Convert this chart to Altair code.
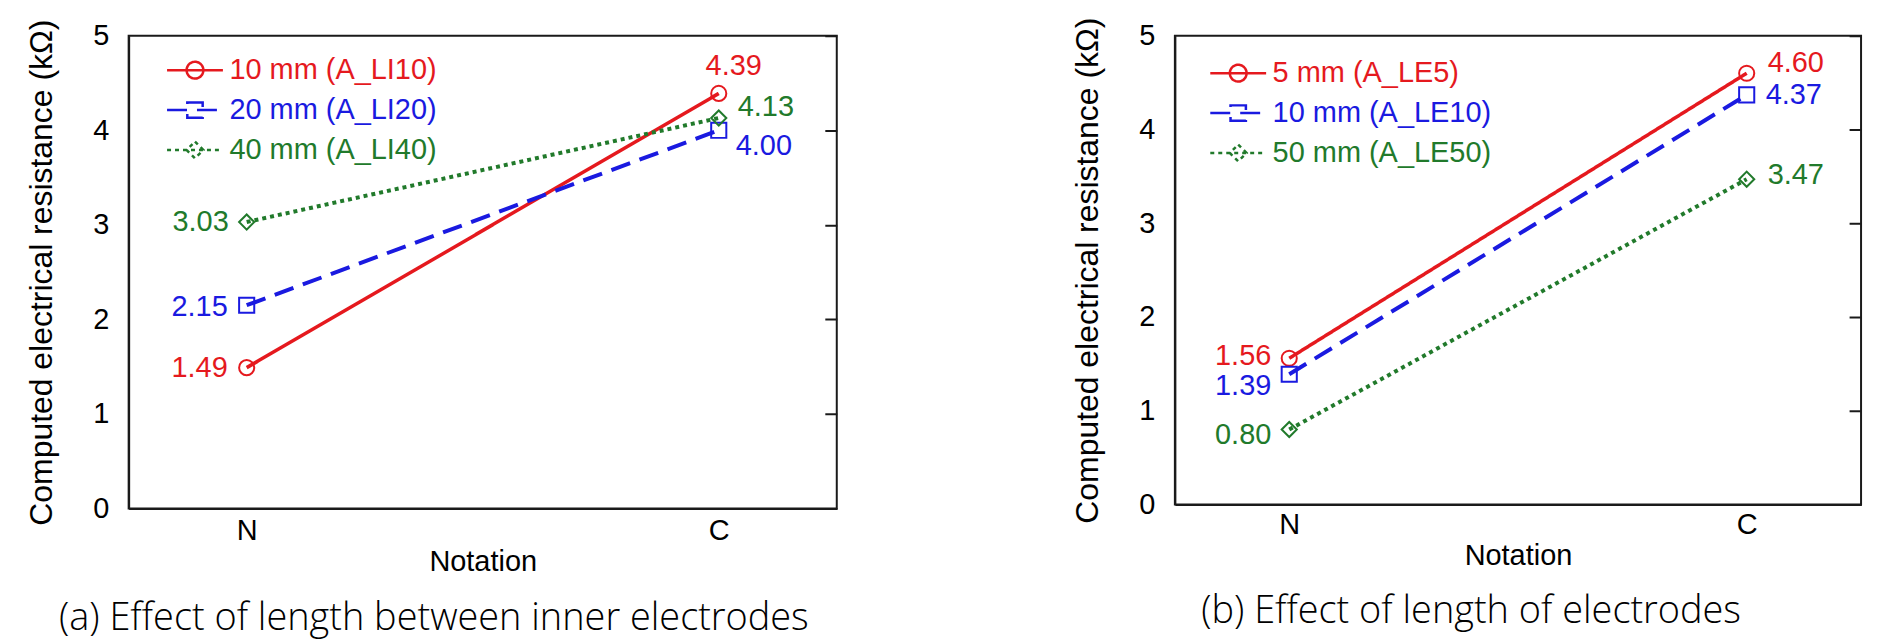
import json
import altair as alt
import pandas as pd

# ---------------- data ----------------
notation = ["N", "C"]

left_series = ["10 mm (A_LI10)", "20 mm (A_LI20)", "40 mm (A_LI40)"]
left_li10 = [1.49, 4.39]
left_li20 = [2.15, 4.00]
left_li40 = [3.03, 4.13]

right_series = ["5 mm (A_LE5)", "10 mm (A_LE10)", "50 mm (A_LE50)"]
right_le5 = [1.56, 4.60]
right_le10 = [1.39, 4.37]
right_le50 = [0.80, 3.47]

y_ticks = [0, 1, 2, 3, 4, 5]
captions = ["(a) Effect of length between inner electrodes",
            "(b) Effect of length of electrodes"]
y_title = "Computed electrical resistance (kΩ)"
x_title = "Notation"

# ---------------- styles ----------------
FONT = "Liberation Sans"
CAP_FONT = "Open Sans"
FS = 29
COLORS = ["#e5191e", "#1a1ae0", "#217a2b"]
DASHES = [[1, 0], [20, 10], [4, 4]]
WIDTHS = [3.5, 4, 4]
SHAPES = ["circle", "square", "diamond"]
LEGEND_PATHS = [
    "M-2,0H2M-0.6,0A0.6,0.6,0,1,1,0.6,0A0.6,0.6,0,1,1,-0.6,0",
    "M-2,0H2M-0.55,-0.55H0.55V0.55H-0.55Z",
    "M-2,0H2M0,-0.6L0.6,0L0,0.6L-0.6,0Z",
]
AXIS_COLOR = "#1a1a1a"

# label offsets (dx, dy, align) per series, per notation
left_offsets = [
    [(-19, 0, "right"), (15, -27, "center")],
    [(-19, 2, "right"), (17, 16, "left")],
    [(-18, 0, "right"), (19, -11, "left")],
]
right_offsets = [
    [(-18, -2, "right"), (21, -10, "left")],
    [(-18, 12, "right"), (19, 0, "left")],
    [(-18, 6, "right"), (21, -4, "left")],
]


def build_panel(series, values, offsets, caption, width, height,
                legend_x, legend_y, cap_x, cap_y, x_label_pad):
    rows = [{"notation": n, "series": s, "value": v}
            for s, vals in zip(series, values)
            for n, v in zip(notation, vals)]
    df = pd.DataFrame(rows)

    x_enc = alt.X(
        "notation:N",
        scale=alt.Scale(type="point", domain=notation, padding=0.25),
        axis=alt.Axis(title=x_title, labelAngle=0, tickSize=0, labelPadding=x_label_pad,
                      titlePadding=2, domainColor=AXIS_COLOR, domainWidth=2,
                      labelFont=FONT, labelFontSize=FS, labelColor="black",
                      titleFont=FONT, titleFontSize=FS, titleFontWeight="normal",
                      titleColor="black"),
    )
    y_scale = alt.Scale(domain=[0, 5], nice=False, zero=False)
    y_enc = alt.Y(
        "value:Q", scale=y_scale,
        axis=alt.Axis(title=y_title, values=y_ticks, tickSize=0, labelPadding=20,
                      titlePadding=34, grid=False, domainColor=AXIS_COLOR,
                      domainWidth=2, labelFont=FONT, labelFontSize=FS,
                      labelColor="black", titleFont=FONT, titleFontSize=32,
                      titleFontWeight="normal", titleColor="black"),
    )

    layers = []
    for i, s in enumerate(series):
        base = alt.Chart(df).transform_filter(alt.datum.series == s)
        layers.append(base.mark_line(color=COLORS[i], strokeDash=DASHES[i],
                                     strokeWidth=WIDTHS[i]).encode(x=x_enc, y=y_enc))
        layers.append(base.mark_point(shape=SHAPES[i], color=COLORS[i], filled=False,
                                      size=230, strokeWidth=2, opacity=1)
                      .encode(x=x_enc, y=y_enc))
        for j, n in enumerate(notation):
            dx, dy, al = offsets[i][j]
            layers.append(
                base.transform_filter(alt.datum.notation == n)
                .mark_text(font=FONT, fontSize=FS, color=COLORS[i], align=al,
                           baseline="middle", dx=dx, dy=dy)
                .encode(x=x_enc, y=y_enc, text=alt.Text("value:Q", format=".2f"))
            )
    cap = alt.Chart(pd.DataFrame({"caption": [caption]})).mark_text(
        font=CAP_FONT, fontSize=38, fontWeight=300, color="#000000",
        align="center", baseline="middle"
    ).encode(x=alt.value(cap_x), y=alt.value(cap_y), text="caption:N")
    layers.append(cap)
    data_layer = alt.layer(*layers)

    arr = json.dumps(series)
    label_expr = (f"indexof({arr}, datum.label) == 0 ? '{COLORS[0]}' : "
                  f"(indexof({arr}, datum.label) == 1 ? '{COLORS[1]}' : '{COLORS[2]}')")
    legend = alt.Legend(
        title=None, orient="none", legendX=legend_x, legendY=legend_y,
        symbolSize=784, symbolStrokeWidth=2.5, symbolFillColor="transparent",
        symbolOpacity=1, labelFont=FONT, labelFontSize=FS, labelOffset=19,
        labelLimit=600, rowPadding=9, padding=0,
        labelColor=alt.ExprRef(expr=label_expr),
    )
    guide = alt.Chart(df).mark_point(opacity=0, filled=False).encode(
        x=x_enc,
        y=alt.Y("value:Q", scale=y_scale,
                axis=alt.Axis(orient="right", offset=-12, values=y_ticks, tickSize=12,
                              tickWidth=2, tickColor=AXIS_COLOR, labels=False,
                              domain=False, grid=False, title=None)),
        color=alt.Color("series:N", scale=alt.Scale(domain=series, range=COLORS),
                        legend=legend),
        shape=alt.Shape("series:N", scale=alt.Scale(domain=series, range=LEGEND_PATHS),
                        legend=legend),
        strokeDash=alt.StrokeDash("series:N",
                                  scale=alt.Scale(domain=series, range=DASHES),
                                  legend=legend),
    )
    return alt.layer(data_layer, guide).resolve_scale(y="independent").properties(
        width=width, height=height)


left = build_panel(left_series, [left_li10, left_li20, left_li40], left_offsets,
                   captions[0], 710, 474, 51, 19, 306, 585, 8)
right = build_panel(right_series, [right_le5, right_le10, right_le50], right_offsets,
                    captions[1], 688, 470, 48, 22, 297, 578, 6)

chart = (
    alt.hconcat(left, right, spacing=339, bounds="flush")
    .resolve_scale(color="independent", shape="independent", strokeDash="independent")
    .resolve_legend(color="independent", shape="independent", strokeDash="independent")
    .configure_view(stroke=AXIS_COLOR, strokeWidth=2)
    .properties(padding={"left": 24, "top": 15, "right": 18, "bottom": 4},
                background="white")
)

chart.save("out.html", embed_options={"renderer": "svg", "actions": False})
